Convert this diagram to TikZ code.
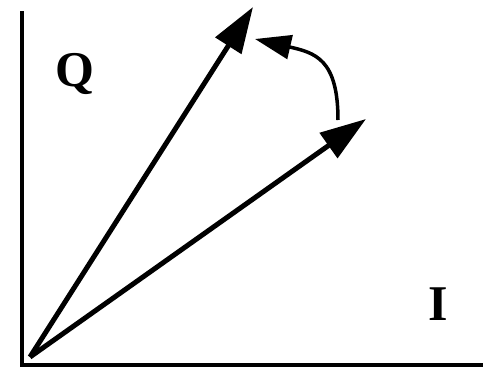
\documentclass[tikz,border=0pt]{standalone}
\usepackage{fontspec}
\setmainfont{Liberation Serif}
\usetikzlibrary{arrows.meta}
\tikzset{
  axis/.style={line width=3.5pt, line cap=rect},
  vec/.style={line width=5pt, -{Triangle[length=46pt,width=30pt]}},
  rot/.style={line width=3.5pt, -{Triangle[length=36pt,width=24pt]}},
  lbl/.style={font=\fontsize{50}{50}\selectfont\bfseries, anchor=base, inner sep=0pt}
}
\begin{document}
\begin{tikzpicture}[x=1pt,y=-1pt]
\useasboundingbox (0,0) rectangle (483,367);
\coordinate (top) at (22,13);
\coordinate (corner) at (22,365);
\coordinate (right) at (485,365);
\coordinate (O) at (30,357);
\coordinate (A) at (253,7);
\coordinate (B) at (366,119);
\coordinate (S) at (338,120);
\coordinate (E) at (255,39);
\draw[axis] (top) -- (corner) -- (right);
\draw[vec] (O) -- (A);
\draw[vec] (O) -- (B);
\draw[rot] (S) to[out=90, in=-13, looseness=1.35] (E);
\node[lbl] (Q) at (75,86) {Q};
\node[lbl] (I) at (438,320) {I};
\end{tikzpicture}
\end{document}
